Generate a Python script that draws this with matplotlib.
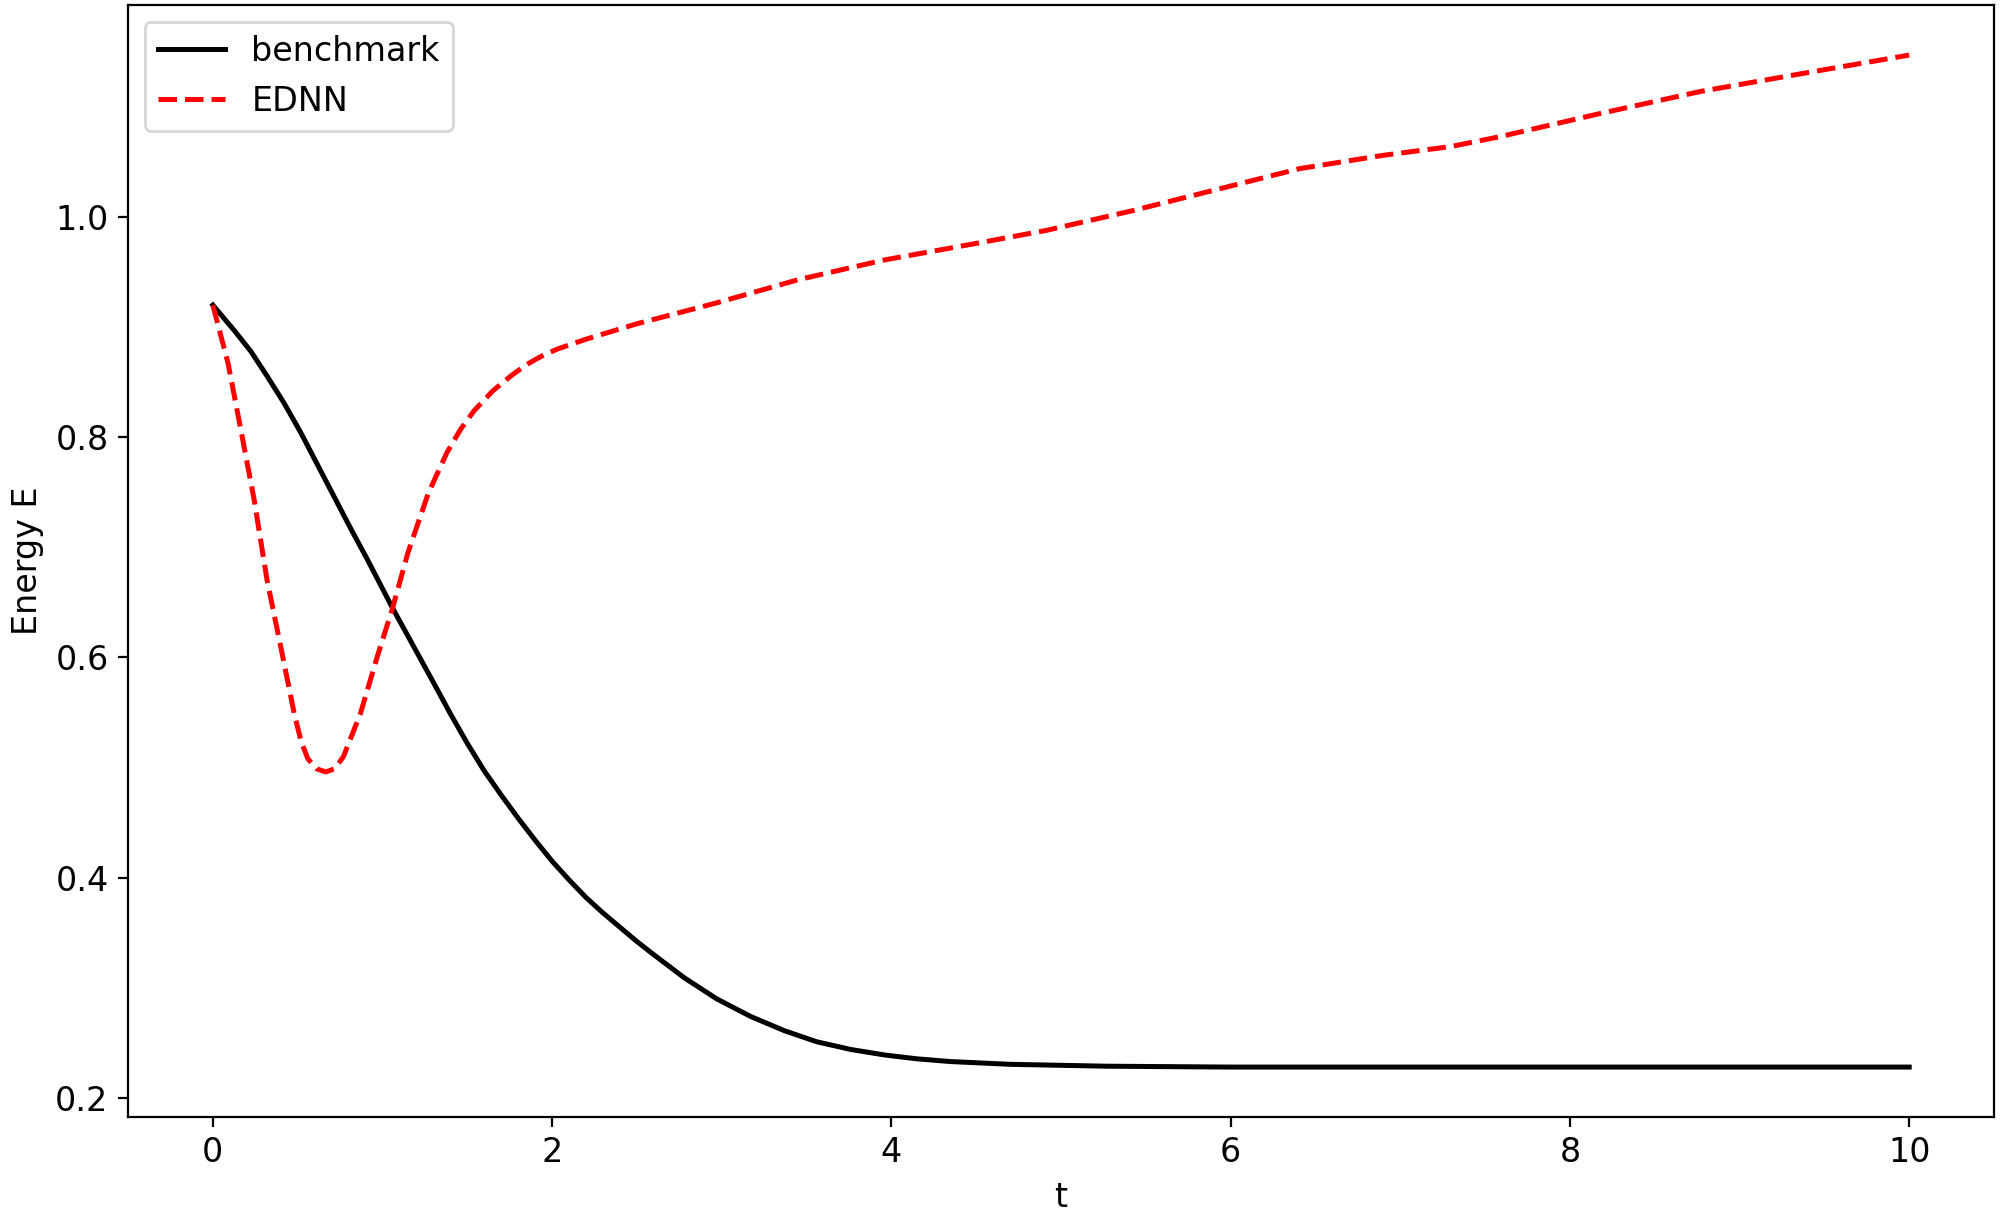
import numpy as np
import matplotlib
matplotlib.use("Agg")
import matplotlib.pyplot as plt

# ------------------------------
# Data
# ------------------------------
t_bench = [0.0, 0.126, 0.224, 0.322, 0.42, 0.519, 0.617, 0.715, 0.813, 0.911,
           1.059, 1.305, 1.40, 1.50, 1.60, 1.70, 1.80, 1.90, 2.0, 2.1, 2.2,
           2.3, 2.4, 2.5, 2.6, 2.78, 2.97, 3.17, 3.37, 3.56, 3.76, 3.96, 4.15,
           4.35, 4.7, 5.27, 6.0, 7.0, 8.0, 9.0, 10.0]
e_bench = [0.92, 0.897, 0.878, 0.855, 0.831, 0.804, 0.775, 0.746, 0.717, 0.689,
           0.645, 0.576, 0.549, 0.522, 0.497, 0.475, 0.454, 0.434, 0.415,
           0.398, 0.382, 0.368, 0.355, 0.342, 0.330, 0.309, 0.290, 0.274,
           0.261, 0.251, 0.244, 0.239, 0.2355, 0.233, 0.2305, 0.2288, 0.228,
           0.228, 0.228, 0.228, 0.228]

t_ednn = [0.0, 0.09, 0.165, 0.245, 0.32, 0.40, 0.48, 0.52, 0.56, 0.61, 0.665,
          0.72, 0.77, 0.87, 0.97, 1.06, 1.15, 1.27, 1.38, 1.46, 1.54, 1.65,
          1.76, 1.85, 1.93, 2.03, 2.2, 2.5, 2.97, 3.45, 3.96, 4.5, 4.92, 5.43,
          5.92, 6.41, 6.9, 7.3, 7.59, 8.18, 8.77, 9.36, 10.0]
e_ednn = [0.92, 0.867, 0.807, 0.742, 0.670, 0.610, 0.549, 0.524, 0.508, 0.499,
          0.496, 0.499, 0.510, 0.549, 0.601, 0.645, 0.695, 0.749, 0.786, 0.807,
          0.824, 0.842, 0.856, 0.866, 0.873, 0.880, 0.889, 0.903, 0.922, 0.943,
          0.961, 0.976, 0.988, 1.006, 1.025, 1.044, 1.056, 1.064, 1.073, 1.094,
          1.114, 1.130, 1.147]

# ------------------------------
# Plot
# ------------------------------
plt.rcParams["font.size"] = 12

fig = plt.figure(figsize=(10, 6.085), dpi=200)
ax = fig.add_axes([0.064, 0.0822, 0.933, 0.9137])

ax.plot(t_bench, e_bench, color="black", linewidth=1.8, label="benchmark")
ax.plot(t_ednn, e_ednn, color="red", linestyle="--", linewidth=1.8, label="EDNN")

ax.set_xlim(-0.5, 10.5)
ax.set_ylim(0.1827, 1.1925)
ax.set_xticks([0, 2, 4, 6, 8, 10])
ax.set_yticks([0.2, 0.4, 0.6, 0.8, 1.0])
ax.set_xlabel("t")
ax.set_ylabel("Energy E")
ax.legend(loc="upper left")

fig.savefig("out.png", dpi=200)
